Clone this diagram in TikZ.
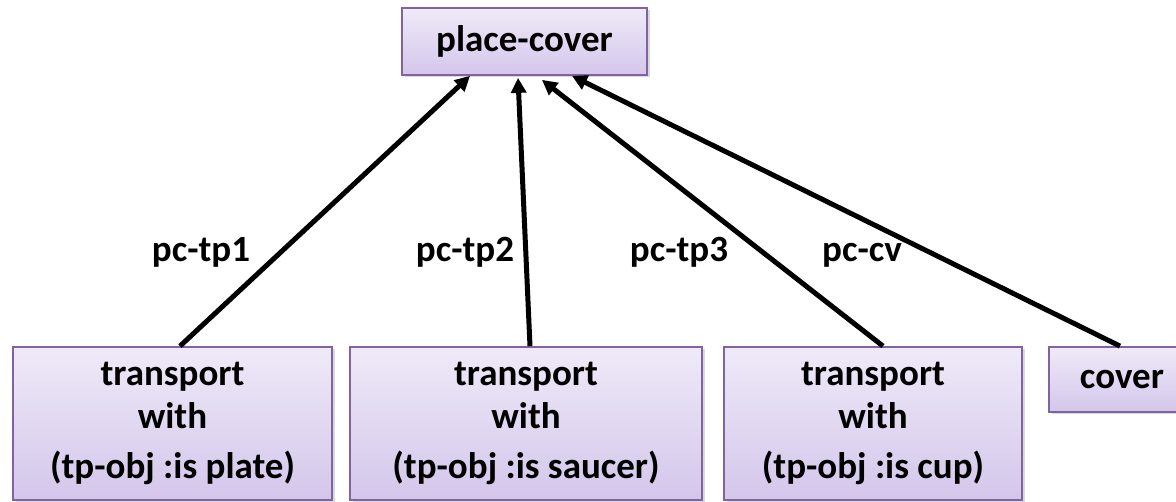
\documentclass[tikz,border=0pt]{standalone}
\usepackage{fontspec}
\setmainfont{Carlito}
\usepackage{xcolor}
\usepackage{tikz}
\usetikzlibrary{arrows.meta, shadows}
\definecolor{taskedge}{RGB}{128,100,162}
\definecolor{tasktop}{RGB}{239,234,248}
\definecolor{taskbottom}{RGB}{212,198,235}

\begin{document}
\begin{tikzpicture}[
  x=1pt, y=-1pt,
  task/.style={draw=taskedge, line width=1.8pt, top color=tasktop, bottom color=taskbottom,
    inner sep=0pt, align=center, font=\fontsize{37}{43}\selectfont\bfseries,
    drop shadow={shadow xshift=2.5pt, shadow yshift=-2.5pt, opacity=0.3}},
  link/.style={line width=5pt, -{Triangle[length=15pt, width=15pt]}},
  linklabel/.style={anchor=base, inner sep=0pt, font=\fontsize{37}{43}\selectfont\bfseries}
]
\useasboundingbox (0,0) rectangle (1176,502);

%% Method and its subtasks
\node[task, minimum width=245pt, minimum height=67pt] (pc) at (524.5, 41.5) {place-cover};
\node[task, minimum width=319pt, minimum height=153pt] (tp1) at (172.5, 423.5)
  {transport\\with\\[7pt](tp-obj :is plate)};
\node[task, minimum width=352pt, minimum height=153pt] (tp2) at (526, 423.5)
  {transport\\with\\[7pt](tp-obj :is saucer)};
\node[task, minimum width=298pt, minimum height=153pt] (tp3) at (873, 423.5)
  {transport\\with\\[7pt](tp-obj :is cup)};
\node[task, minimum width=146pt, minimum height=65pt] (cv) at (1122, 379.5) {cover};

%% Subtask links
\draw[link] ([xshift=7.5pt]tp1.north) -- ([xshift=-54.5pt]pc.south);
\draw[link] ([xshift=4pt]tp2.north) -- ([xshift=-6.5pt, yshift=-2pt]pc.south);
\draw[link] ([xshift=10pt]tp3.north) -- ([xshift=17.5pt, yshift=-4pt]pc.south);
\draw[link] ([xshift=-2pt]cv.north) -- ([xshift=47.5pt]pc.south);

\node[linklabel] (l1) at (201, 262) {pc-tp1};
\node[linklabel] (l2) at (465, 262) {pc-tp2};
\node[linklabel] (l3) at (679, 262) {pc-tp3};
\node[linklabel] (l4) at (862, 262) {pc-cv};
\end{tikzpicture}
\end{document}
